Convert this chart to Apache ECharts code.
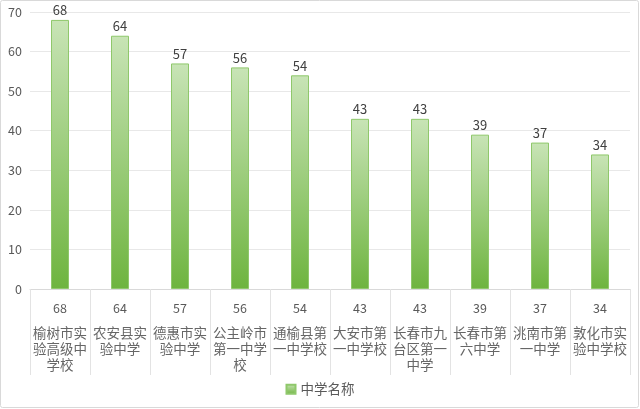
<!DOCTYPE html>
<html><head><meta charset="utf-8">
<script src="https://cdn.jsdelivr.net/npm/echarts@6/dist/echarts.min.js"></script>
<style>html,body{margin:0;padding:0;background:#fff}#c{width:640px;height:409px}</style>
</head><body><div id="c"></div>
<script>
const categories = ['榆树市实验高级中学校','农安县实验中学','德惠市实验中学','公主岭市第一中学校','通榆县第一中学校','大安市第一中学校','长春市九台区第一中学','长春市第六中学','洮南市第一中学','敦化市实验中学校'];
const values = [68,64,57,56,54,43,43,39,37,34];
const seriesName = '中学名称';
const yTicks = [0,10,20,30,40,50,60,70];

function wrap(s, n) {
  const out = [];
  for (let i = 0; i < s.length; i += n) out.push('{n|' + s.slice(i, i + n) + '}');
  return out.join('\n');
}
const chart = echarts.init(document.getElementById('c'), null, {renderer: 'canvas'});
const FONT = '"Noto Sans CJK SC", "Noto Sans", sans-serif';
chart.setOption({
  animation: false,
  textStyle: {fontFamily: FONT},
  graphic: [{type: 'rect', shape: {x: 0.5, y: 0.5, width: 638, height: 407, r: 2}, style: {fill: 'none', stroke: '#d9d9d9', lineWidth: 1}, silent: true}],
  grid: {left: 30, right: 10, top: 12, bottom: 120, containLabel: false},
  xAxis: {
    type: 'category', data: categories,
    axisLine: {lineStyle: {color: '#d9d9d9'}},
    axisTick: {show: true, length: 86, alignWithLabel: false, lineStyle: {color: '#e3e3e3'}},
    axisLabel: {
      interval: 0, margin: 10, verticalAlign: 'top',
      formatter: (v, i) => '{v|' + values[i] + '}\n' + wrap(v, 4),
      rich: {
        v: {fontSize: 12.5, color: '#595959', height: 18, lineHeight: 18, fontFamily: FONT},
        g: {height: 8, lineHeight: 8},
        n: {fontSize: 13.5, color: '#666666', lineHeight: 16, fontFamily: FONT}
      }
    }
  },
  yAxis: {
    type: 'value', min: yTicks[0], max: yTicks[yTicks.length - 1], interval: 10,
    axisLine: {show: false}, axisTick: {show: false},
    axisLabel: {color: '#595959', fontSize: 12.5, margin: 8},
    splitLine: {lineStyle: {color: '#e8e8e8'}}
  },
  legend: {
    bottom: 8, left: 'center', icon: 'rect', itemWidth: 9, itemHeight: 9, itemGap: 6,
    textStyle: {color: '#595959', fontSize: 13.5}
  },
  series: [{
    name: seriesName, type: 'bar', data: values, barWidth: 18,
    itemStyle: {
      color: new echarts.graphic.LinearGradient(0, 0, 0, 1, [
        {offset: 0, color: '#c8e4b6'}, {offset: 1, color: '#6eb43f'}
      ]),
      borderColor: '#8fc86b', borderWidth: 1
    },
    label: {show: true, position: 'top', color: '#404040', fontSize: 13, distance: 3}
  }]
});
chart.setOption({xAxis: {axisLabel: {formatter: (v, i) => '{v|' + values[i] + '}\n{g| }\n' + wrap(v, 4)}}});
</script></body></html>
